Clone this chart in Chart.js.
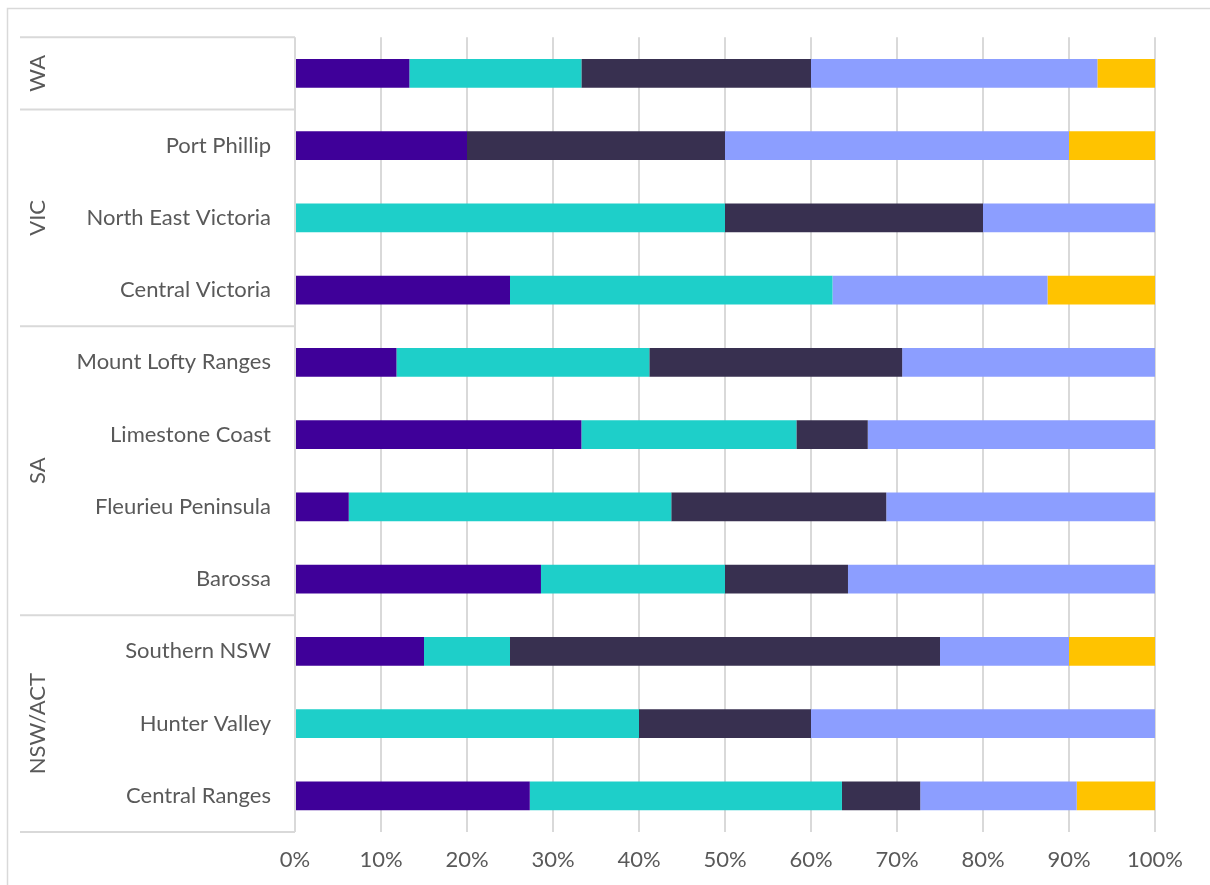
<!DOCTYPE html>
<html>
<head>
<meta charset="utf-8">
<script src="https://cdn.jsdelivr.net/npm/chart.js@4"></script>
<style>
  html, body { margin: 0; padding: 0; background: #fff; }
  #wrap { width: 1210px; height: 885px; position: relative; }
</style>
</head>
<body>
<div id="wrap"><canvas id="regions-chart"></canvas></div>
<script>
// regions, top to bottom
var regions = [
  "",
  "Port Phillip",
  "North East Victoria",
  "Central Victoria",
  "Mount Lofty Ranges",
  "Limestone Coast",
  "Fleurieu Peninsula",
  "Barossa",
  "Southern NSW",
  "Hunter Valley",
  "Central Ranges"
];

// state groups and how many regions each one spans
var stateNames = ["WA", "VIC", "SA", "NSW/ACT"];
var stateSizes = [1, 3, 4, 3];

// share of each region (%)
var series1 = [13.3, 20, 0, 25, 11.8, 33.3, 6.25, 28.6, 15, 0, 27.3];
var series2 = [20, 0, 50, 37.5, 29.4, 25, 37.5, 21.4, 10, 40, 36.3];
var series3 = [26.7, 30, 30, 0, 29.4, 8.3, 25, 14.3, 50, 20, 9.1];
var series4 = [33.3, 40, 20, 25, 29.4, 33.4, 31.25, 35.7, 15, 40, 18.2];
var series5 = [6.7, 10, 0, 12.5, 0, 0, 0, 0, 10, 0, 9.1];

var xTicks = [0, 10, 20, 30, 40, 50, 60, 70, 80, 90, 100];

var colors = ["#3F0099", "#1ECFC9", "#383050", "#8C9EFF", "#FFC300"];
var textColor = "#595959";
var lineColor = "#D9D9D9";
var fontFamily = "Lato, 'Open Sans', sans-serif";
var fontSize = 22;

// state labels on a second level of the category axis
var stateAxis = {
  id: "stateAxis",
  beforeDraw: function (chart) {
    var ctx = chart.ctx;
    ctx.save();
    ctx.strokeStyle = lineColor;
    ctx.lineWidth = 1.5;
    ctx.beginPath();
    ctx.moveTo(7.5, 885);
    ctx.lineTo(7.5, 8.5);
    ctx.lineTo(1210, 8.5);
    ctx.stroke();
    ctx.restore();
  },
  afterDraw: function (chart) {
    var ctx = chart.ctx;
    var y = chart.scales.y;
    var band = y.getPixelForValue(1) - y.getPixelForValue(0);
    var left = 20;
    var right = chart.chartArea.left;
    ctx.save();
    ctx.strokeStyle = lineColor;
    ctx.lineWidth = 2;
    var start = 0;
    var edges = [y.getPixelForValue(0) - band / 2];
    for (var i = 0; i < stateNames.length; i++) {
      var end = start + stateSizes[i];
      var top = y.getPixelForValue(start) - band / 2;
      var bottom = y.getPixelForValue(end - 1) + band / 2;
      edges.push(bottom);
      ctx.save();
      ctx.translate(38, (top + bottom) / 2);
      ctx.rotate(-Math.PI / 2);
      ctx.fillStyle = textColor;
      ctx.font = fontSize + "px " + fontFamily;
      ctx.textAlign = "center";
      ctx.textBaseline = "middle";
      ctx.fillText(stateNames[i], 0, 0);
      ctx.restore();
      start = end;
    }
    ctx.beginPath();
    edges.forEach(function (e) {
      ctx.moveTo(left, e);
      ctx.lineTo(right, e);
    });
    ctx.stroke();
    ctx.restore();
  }
};

var config = {
  type: "bar",
  data: {
    labels: regions,
    datasets: [
      { label: "Series 1", data: series1, backgroundColor: colors[0] },
      { label: "Series 2", data: series2, backgroundColor: colors[1] },
      { label: "Series 3", data: series3, backgroundColor: colors[2] },
      { label: "Series 4", data: series4, backgroundColor: colors[3] },
      { label: "Series 5", data: series5, backgroundColor: colors[4] }
    ]
  },
  options: {
    indexAxis: "y",
    responsive: true,
    maintainAspectRatio: false,
    animation: false,
    barPercentage: 1,
    categoryPercentage: 0.4,
    layout: { padding: { top: 37, right: 55, left: 0, bottom: 0 } },
    plugins: {
      legend: { display: false },
      title: { display: false },
      tooltip: { enabled: false }
    },
    scales: {
      x: {
        stacked: true,
        min: 0,
        max: 100,
        afterBuildTicks: function (scale) {
          scale.ticks = xTicks.map(function (v) { return { value: v }; });
        },
        afterFit: function (scale) { scale.height = 53; },
        grid: { color: lineColor, lineWidth: 2, drawTicks: false },
        border: { display: false },
        ticks: {
          padding: 15,
          color: textColor,
          font: { family: fontFamily, size: fontSize },
          callback: function (v) { return v + "%"; }
        }
      },
      y: {
        stacked: true,
        afterFit: function (scale) { scale.width = 295; },
        grid: { display: false, drawTicks: false },
        border: { display: false },
        ticks: {
          padding: 24,
          color: textColor,
          font: { family: fontFamily, size: fontSize }
        }
      }
    }
  },
  plugins: [stateAxis]
};

new Chart(document.getElementById("regions-chart"), config);
</script>
</body>
</html>
